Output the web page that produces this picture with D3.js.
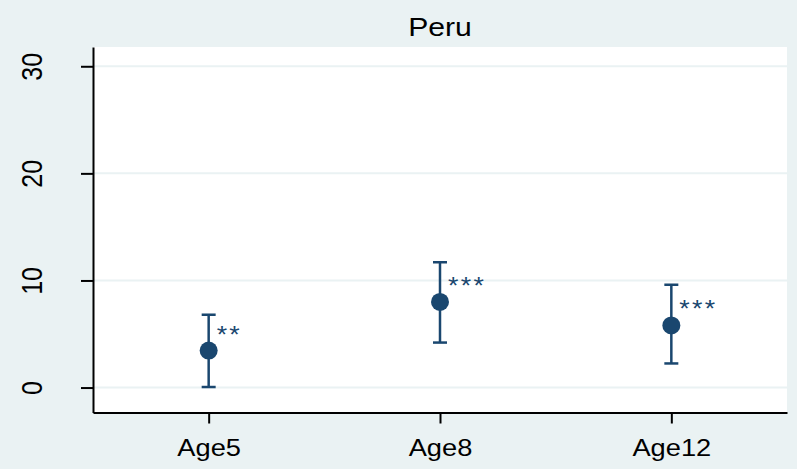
<!DOCTYPE html>
<html>
<head>
<meta charset="utf-8">
<script src="https://cdn.jsdelivr.net/npm/d3@7"></script>
<style>
  body { margin: 0; background: #eaf2f3; }
  text { font-family: "Liberation Sans", Arial, sans-serif; }
</style>
</head>
<body>
<div id="chart"></div>
<script>
const svgWidth = 797;
const svgHeight = 469;

// data
const categories = ["Age5", "Age8", "Age12"];
const estimates = [3.45, 8.0, 5.8];
const lowerCI = [0.05, 4.2, 2.25];
const upperCI = [6.8, 11.7, 9.6];
const stars = ["**", "***", "***"];
const yTicks = [0, 10, 20, 30];

const margin = { top: 47, right: 10, bottom: 56, left: 93 };
const width = svgWidth - margin.left - margin.right;
const height = 412.5 - margin.top;

const navy = "#1a476f";
const stretch = 1.16; // the picture's text is a bit wide

const svg = d3.select("#chart")
  .append("svg")
  .attr("width", svgWidth)
  .attr("height", svgHeight)
  .style("background", "#eaf2f3");

svg.append("text")
  .attr("transform", `translate(${margin.left + width / 2}, 36) scale(${stretch},1)`)
  .attr("text-anchor", "middle")
  .style("font-size", "26px")
  .attr("fill", "#000")
  .text("Peru");

const chartGroup = svg.append("g")
  .attr("transform", `translate(${margin.left}, ${margin.top})`);

chartGroup.append("rect")
  .attr("width", width)
  .attr("height", height)
  .attr("fill", "#fff");

const xScale = d3.scalePoint()
  .domain(categories)
  .range([0, width])
  .padding(0.5);

const yScale = d3.scaleLinear()
  .domain([-2.33, 31.8])
  .range([height, 0]);

// gridlines
chartGroup.selectAll(".grid")
  .data(yTicks)
  .enter()
  .append("line")
  .attr("x1", 0)
  .attr("x2", width)
  .attr("y1", d => yScale(d))
  .attr("y2", d => yScale(d))
  .attr("stroke", "#eaf2f3")
  .attr("stroke-width", 2);

const leftAxis = d3.axisLeft(yScale)
  .tickValues(yTicks)
  .tickSize(12)
  .tickSizeOuter(0);

const yAxis = chartGroup.append("g").call(leftAxis);
yAxis.select(".domain").attr("stroke-width", 2);
yAxis.selectAll(".tick line").attr("stroke-width", 2);
yAxis.selectAll(".tick text")
  .style("font-size", "25px")
  .attr("fill", "#000")
  .attr("transform", `scale(${stretch},1) rotate(-90)`)
  .attr("text-anchor", "middle")
  .attr("x", 0)
  .attr("y", -51 / stretch)
  .attr("dy", 0);

const bottomAxis = d3.axisBottom(xScale)
  .tickSize(11)
  .tickSizeOuter(0);

const xAxis = chartGroup.append("g")
  .attr("transform", `translate(0, ${height})`)
  .call(bottomAxis);
xAxis.select(".domain").attr("stroke-width", 2);
xAxis.selectAll(".tick line").attr("stroke-width", 2);
xAxis.selectAll(".tick text")
  .style("font-size", "23.5px")
  .attr("fill", "#000")
  .attr("transform", `scale(${stretch},1)`)
  .attr("y", 44)
  .attr("dy", 0);

const points = categories.map((c, i) => ({
  cat: c, est: estimates[i], lo: lowerCI[i], hi: upperCI[i], star: stars[i]
}));

const bars = chartGroup.selectAll(".ci")
  .data(points)
  .enter()
  .append("g");

bars.append("line")
  .attr("x1", d => xScale(d.cat))
  .attr("x2", d => xScale(d.cat))
  .attr("y1", d => yScale(d.lo))
  .attr("y2", d => yScale(d.hi))
  .attr("stroke", navy)
  .attr("stroke-width", 2.5);

bars.selectAll(".cap")
  .data(d => [[d.cat, d.lo], [d.cat, d.hi]])
  .enter()
  .append("line")
  .attr("x1", d => xScale(d[0]) - 7)
  .attr("x2", d => xScale(d[0]) + 7)
  .attr("y1", d => yScale(d[1]))
  .attr("y2", d => yScale(d[1]))
  .attr("stroke", navy)
  .attr("stroke-width", 2.5);

bars.append("circle")
  .attr("cx", d => xScale(d.cat))
  .attr("cy", d => yScale(d.est))
  .attr("r", 9)
  .attr("fill", navy);

bars.append("text")
  .attr("transform", d => `translate(${xScale(d.cat) + 8}, ${yScale(d.est) - 8}) scale(${stretch},1)`)
  .style("font-size", "23px")
  .attr("fill", navy)
  .attr("letter-spacing", 2)
  .text(d => d.star);
</script>
</body>
</html>
